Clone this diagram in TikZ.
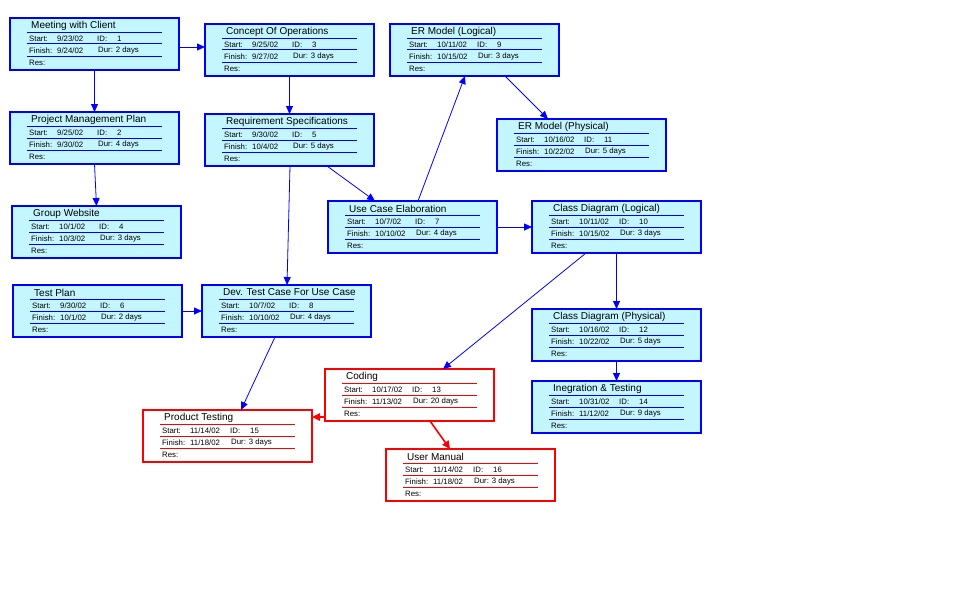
\documentclass[tikz,border=0pt]{standalone}
\usepackage{fontspec}
\setmainfont{Liberation Sans}
\usetikzlibrary{calc,arrows.meta}
\definecolor{bl}{RGB}{0,0,255}
\definecolor{rd}{RGB}{255,0,0}
\definecolor{cyfill}{RGB}{196,246,255}
\tikzset{
  taskbase/.style={minimum width=169pt, minimum height=52pt, anchor=north west, inner sep=0pt, outer sep=0pt},
  bluebox/.style={taskbase, draw=bl, line width=1.3pt, fill=cyfill},
  redbox/.style={taskbase, draw=rd, line width=2pt, fill=white},
  bluesep/.style={draw=bl, line width=1pt},
  redsep/.style={draw=rd, line width=1pt},
  ttl/.style={anchor=west, inner sep=0pt, font=\fontsize{10}{12}\selectfont},
  rowtxt/.style={anchor=west, inner sep=0pt, font=\fontsize{7.8}{9}\selectfont},
  bluearr/.style={draw=bl, line width=0.8pt, -{Triangle[length=8pt,width=7pt]}},
  redarr/.style={draw=rd, line width=1.6pt, -{Triangle[length=8pt,width=7.5pt]}},
}
\newcommand{\taskbox}[9]{%
  \node[#4box] (#1) at (#2,#3) {};
  \draw[#4sep] ($(#1.north west)+(17,14.5)$) -- ++(135,0);
  \draw[#4sep] ($(#1.north west)+(17,26)$) -- ++(135,0);
  \draw[#4sep] ($(#1.north west)+(17,38.5)$) -- ++(135,0);
  \node[ttl] at ($(#1.north west)+(21,7.5)$) {#5};
  \node[rowtxt] at ($(#1.north west)+(19,20.5)$) {Start:};
  \node[rowtxt] at ($(#1.north west)+(47,20.5)$) {#6};
  \node[rowtxt] at ($(#1.north west)+(87,20.5)$) {ID:};
  \node[rowtxt] at ($(#1.north west)+(107,20.5)$) {#7};
  \node[rowtxt] at ($(#1.north west)+(19,32.5)$) {Finish:};
  \node[rowtxt] at ($(#1.north west)+(47,32.5)$) {#8};
  \node[rowtxt] at ($(#1.north west)+(88,32.5)$) {Dur: #9};
  \node[rowtxt] at ($(#1.north west)+(19,45)$) {Res:};
}
\begin{document}
\begin{tikzpicture}[x=1pt,y=-1pt]
\path[use as bounding box, fill=white] (0,0) rectangle (957,602);
\taskbox{m1}{10}{18}{blue}{Meeting with Client}{9/23/02}{1}{9/24/02}{2 days}
\taskbox{c3}{205}{24}{blue}{Concept Of Operations}{9/25/02}{3}{9/27/02}{3 days}
\taskbox{e9}{390}{24}{blue}{ER Model (Logical)}{10/11/02}{9}{10/15/02}{3 days}
\taskbox{p2}{10}{112}{blue}{Project Management Plan}{9/25/02}{2}{9/30/02}{4 days}
\taskbox{r5}{205}{114}{blue}{Requirement Specifications}{9/30/02}{5}{10/4/02}{5 days}
\taskbox{e11}{497}{119}{blue}{ER Model (Physical)}{10/16/02}{11}{10/22/02}{5 days}
\taskbox{g4}{12}{206}{blue}{Group Website}{10/1/02}{4}{10/3/02}{3 days}
\taskbox{u7}{328}{201}{blue}{Use Case Elaboration}{10/7/02}{7}{10/10/02}{4 days}
\taskbox{c10}{532}{201}{blue}{Class Diagram (Logical)}{10/11/02}{10}{10/15/02}{3 days}
\taskbox{t6}{13}{285}{blue}{Test Plan}{9/30/02}{6}{10/1/02}{2 days}
\taskbox{d8}{202}{285}{blue}{Dev. Test Case For Use Case}{10/7/02}{8}{10/10/02}{4 days}
\taskbox{c12}{532}{309}{blue}{Class Diagram (Physical)}{10/16/02}{12}{10/22/02}{5 days}
\taskbox{c14}{532}{381}{blue}{Inegration \& Testing}{10/31/02}{14}{11/12/02}{9 days}
\taskbox{co13}{325}{369}{red}{Coding}{10/17/02}{13}{11/13/02}{20 days}
\taskbox{pt15}{143}{410}{red}{Product Testing}{11/14/02}{15}{11/18/02}{3 days}
\taskbox{um16}{386}{449}{red}{User Manual}{11/14/02}{16}{11/18/02}{3 days}
% connectors
\draw[bluearr] ($(m1.north east)+(0,29)$) -- ($(c3.north west)+(0,23)$);
\draw[bluearr] (m1.south) -- (p2.north);
\draw[bluearr] (p2.south) -- (g4.north);
\draw[bluearr] (c3.south) -- (r5.north);
\draw[bluearr] ($(r5.south west)+(122,0)$) -- ($(u7.north west)+(47,0)$);
\draw[bluearr] ($(r5.south west)+(85,0)$) -- ($(d8.north west)+(85,0)$);
\draw[bluearr] ($(u7.north west)+(90,0)$) -- ($(e9.south west)+(75,0)$);
\draw[bluearr] ($(e9.south west)+(115,0)$) -- ($(e11.north west)+(51,0)$);
\draw[bluearr] (u7.east) -- (c10.west);
\draw[bluearr] (t6.east) -- (d8.west);
\draw[bluearr] (c10.south) -- (c12.north);
\draw[bluearr] (c12.south) -- (c14.north);
\draw[bluearr] ($(c10.south west)+(54,0)$) -- ($(co13.north west)+(118,0)$);
\draw[bluearr] ($(d8.south west)+(73,0)$) -- ($(pt15.north west)+(98,0)$);
\draw[redarr] ($(co13.north west)+(0,48)$) -- ($(pt15.north east)+(0,7)$);
\draw[redarr] ($(co13.south west)+(105,0)$) -- ($(um16.north west)+(64,0)$);
\end{tikzpicture}
\end{document}
